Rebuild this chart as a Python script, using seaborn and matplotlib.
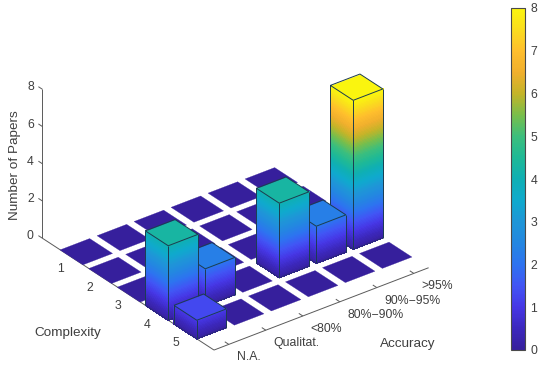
import matplotlib
matplotlib.use("Agg")
import matplotlib.pyplot as plt
from matplotlib.cm import ScalarMappable
from matplotlib.colors import Normalize
from matplotlib.transforms import offset_copy
from mpl_toolkits.mplot3d import proj3d
from mpl_toolkits.mplot3d.art3d import Poly3DCollection
import numpy as np
import pandas as pd
import seaborn as sns

complexity_labels = ["1", "2", "3", "4", "5"]
accuracy_labels = ["N.A.", "Qualitat.", "<80%", "80%\u221290%", "90%\u221295%", ">95%"]
z_ticks = [0, 2, 4, 6, 8]
bar_ticks = [0, 1, 2, 3, 4, 5, 6, 7, 8]
papers_c1 = [0, 0, 0, 0, 0, 0]
papers_c2 = [0, 0, 0, 0, 0, 0]
papers_c3 = [0, 0, 0, 0, 0, 0]
papers_c4 = [4, 2, 0, 4, 2, 8]
papers_c5 = [1, 0, 0, 0, 0, 0]

table = pd.DataFrame([papers_c1, papers_c2, papers_c3, papers_c4, papers_c5],
                     index=complexity_labels, columns=accuracy_labels)

sns.set_theme(style="white")
plt.rcParams["font.family"] = ["Liberation Sans", "DejaVu Sans"]

parula_anchors = ["#361f9c", "#3c28be", "#4637e6", "#4155f5", "#2d73f0", "#2387e1",
                  "#1e96d7", "#0faacd", "#0fafb4", "#1eb996", "#3cbe7d", "#78be4b",
                  "#c3b428", "#f0af2d", "#ffbe2d", "#fadc1e", "#faf50f"]
parula = sns.blend_palette(parula_anchors, n_colors=256, as_cmap=True)
norm = Normalize(0, 8)
TEXT = "#3f3f3f"
EDGE = "#1c3c50"
BAR_W = 0.4

W, H = 550, 371
fig = plt.figure(figsize=(W / 100, H / 100), dpi=100, facecolor="white")
S = 414.4
ax = fig.add_axes([22.7 / W, -20.3 / H, S / W, S / H], projection="3d",
                  proj_type="ortho", computed_zorder=False)
x0, x1 = 0.6, 6.4
ax.set_xlim(x0, x1)
ax.set_ylim(6, 0)
ax.set_zlim(0, 8)
ax.set_box_aspect((270.5, 281.9, 172), zoom=1.0)
ax.view_init(elev=30, azim=-127.5)
ax.set_axis_off()
M = ax.get_proj()


def line(xs, ys, zs, z=1, lw=0.7, color="#5a5a5a"):
    ax.plot(xs, ys, zs, color=color, lw=lw, zorder=z, solid_capstyle="butt")


def label(x, y, z, s, dx, dy, ha="center"):
    px, py, _ = proj3d.proj_transform(x, y, z, M)
    tr = offset_copy(ax.transData, fig=fig, x=dx, y=dy, units="dots")
    fig.text(px, py, s, transform=tr, ha=ha, va="center", fontsize=8.8, color=TEXT)


# axis lines and ticks
line([x0, x1], [6, 6], [0, 0])
line([x0, x0], [0, 6], [0, 0])
line([x0, x0], [0, 0], [0, 8])
for v in z_ticks:
    line([x0, x0], [0, -0.14], [v, v])
    label(x0, 0, v, str(v), -12, 2)
for i, lab in enumerate(complexity_labels, start=1):
    line([x0, x0 + 0.1], [i, i], [0, 0])
    label(x0, i, 0, lab, -10, -12)
for j, lab in enumerate(accuracy_labels, start=1):
    line([j, j], [6, 5.86], [0, 0])
    label(j, 6, 0, lab, 8, -13, ha="left")

# bars, painted from the back to the front
order = 10
for r in range(table.shape[0]):
    for c in range(table.shape[1] - 1, -1, -1):
        h = float(table.iloc[r, c])
        xa, xb = c + 1 - BAR_W, c + 1 + BAR_W
        ya, yb = r + 1 - BAR_W, r + 1 + BAR_W
        if h > 0:
            polys, cols = [], []
            levels = np.linspace(0, h, int(h * 14) + 1)
            for lo, hi in zip(levels[:-1], levels[1:]):
                col = parula(norm((lo + hi) / 2))
                polys.append([(xa, ya, lo), (xa, yb, lo), (xa, yb, hi), (xa, ya, hi)])
                cols.append(col)
                polys.append([(xa, yb, lo), (xb, yb, lo), (xb, yb, hi), (xa, yb, hi)])
                cols.append(col)
            ax.add_collection3d(Poly3DCollection(polys, facecolors=cols, edgecolors=cols,
                                                 linewidths=0.3, antialiaseds=False, zorder=order))
            order += 1
        top = [[(xa, ya, h), (xb, ya, h), (xb, yb, h), (xa, yb, h)]]
        top_col = [parula(norm(h + 0.3 if h > 0 else 0))]
        ax.add_collection3d(Poly3DCollection(top, facecolors=top_col, edgecolors=top_col,
                                             linewidths=0.2, zorder=order))
        order += 1
        if h > 0:
            line([xa, xa, xb, xb, xa], [ya, yb, yb, ya, ya], [h] * 5, z=order, color=EDGE)
            line([xa, xa], [ya, ya], [h, 0], z=order, color=EDGE)
            line([xa, xa], [yb, yb], [0, h], z=order, color=EDGE)
            line([xb, xb], [yb, yb], [0, h], z=order, color=EDGE)
            line([xa, xa, xb], [ya, yb, yb], [0, 0, 0], z=order, color="#2a2a78")
            order += 1

fig.text(15 / W, 1 - 165.5 / H, "Number of Papers", rotation=90, ha="center", va="center",
         fontsize=9.7, color=TEXT)
fig.text(68 / W, 1 - 333 / H, "Complexity", ha="center", va="center", fontsize=9.7, color=TEXT)
fig.text(408 / W, 1 - 344 / H, "Accuracy", ha="center", va="center", fontsize=9.7, color=TEXT)

cax = fig.add_axes([511 / W, 1 - 350 / H, 14 / W, 342 / H])
cb = fig.colorbar(ScalarMappable(norm=norm, cmap=parula), cax=cax, ticks=bar_ticks)
cb.ax.tick_params(labelsize=8.8, labelcolor=TEXT, color="#5a5a5a", direction="in", length=3, width=0.7, pad=4)
cb.outline.set_edgecolor("#4a4a4a")
cb.outline.set_linewidth(0.8)

fig.savefig("out.png", dpi=100)
